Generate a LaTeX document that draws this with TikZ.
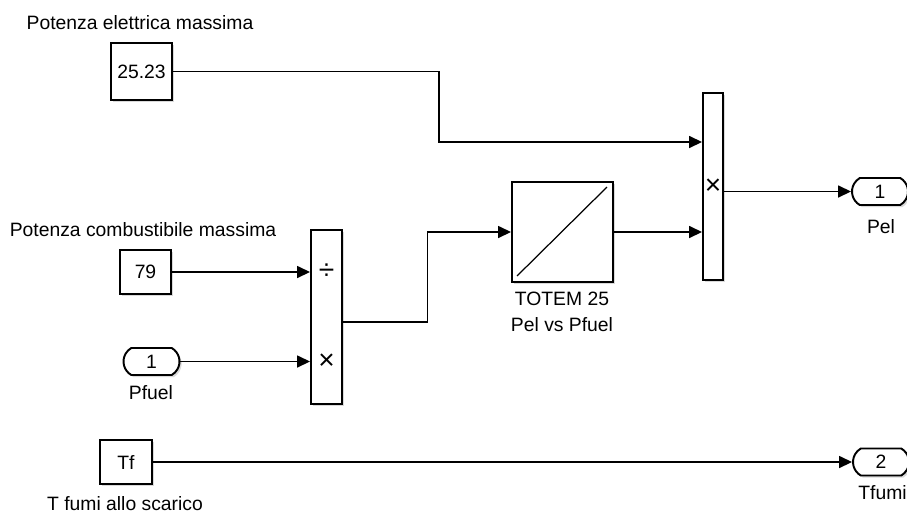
\documentclass[tikz,border=0pt]{standalone}
\usepackage{fontspec}
\setmainfont{Liberation Sans}
\usetikzlibrary{arrows.meta,shapes.misc,shadows}

\begin{document}
\begin{tikzpicture}[
        font=\fontsize{11}{13}\selectfont,
        blk/.style={draw, line width=1.1pt, fill=white, inner sep=0pt,
            drop shadow={shadow xshift=1.2pt, shadow yshift=-1.2pt, fill=black!25, opacity=0.6}},
        port/.style={blk, rounded rectangle, rounded rectangle arc length=120,
            minimum width=1.12cm, minimum height=0.54cm},
        op/.style={font=\fontsize{16}{16}\selectfont, inner sep=0pt},
        wire/.style={line width=0.9pt},
        sig/.style={wire, -{Triangle[length=0.26cm, width=0.24cm]}}
    ]
        \useasboundingbox (0,0) rectangle (18.14,-10.24);
        \node[blk, minimum width=1.22cm, minimum height=1.14cm] (c25) at (2.83,-1.43) {25.23};
        \node (lab25) at (2.8,-0.46) {Potenza elettrica massima};
        \node[blk, minimum width=1.02cm, minimum height=0.88cm] (c79) at (2.91,-5.44) {79};
        \node (lab79) at (2.86,-4.6) {Potenza combustibile massima};
        \node[port] (in1) at (3.03,-7.23) {1};
        \node (labpfuel) at (3.02,-7.86) {Pfuel};
        \node[blk, minimum width=1.04cm, minimum height=0.88cm] (tf) at (2.52,-9.24) {Tf};
        \node[anchor=base] (labtf) at (2.5,-10.2) {T fumi allo scarico};
        \node[blk, minimum width=0.62cm, minimum height=3.48cm] (div) at (6.53,-6.34) {};
        \node[op] at (div.center |- c79) {÷};
        \node[op] at (div.center |- in1) {×};
        \node[blk, minimum width=2.02cm, minimum height=2cm] (totem) at (11.25,-4.64) {};
        \draw[line width=0.7pt] ([shift={(0.12,0.14)}]totem.south west) -- ([shift={(-0.14,-0.12)}]totem.north east);
        \node (labtotem) at (11.24,-5.98) {TOTEM 25};
        \node (labpel2) at (11.24,-6.5) {Pel vs Pfuel};
        \node[blk, minimum width=0.4cm, minimum height=3.74cm] (prod) at (14.26,-3.73) {};
        \node[op] at (prod.center) {×};
        \node[port] (out1) at (17.6,-3.83) {1};
        \node (labpel) at (17.62,-4.54) {Pel};
        \node[port] (out2) at (17.62,-9.24) {2};
        \node (labtfumi) at (17.65,-9.86) {Tfumi};

        \draw[sig] (c25.east) -- ++(5.32,0) |- ([yshift=0.89cm]prod.west);
        \draw[sig] (c79.east) -- (c79.east -| div.west);
        \draw[sig] (in1.east) -- (in1.east -| div.west);
        \draw[sig] ([yshift=-1mm]div.east) -- ++(1.69,0) |- (totem.west);
        \draw[sig] (totem.east) -- (totem.east -| prod.west);
        \draw[sig] (prod.east |- out1.west) -- (out1.west);
        \draw[sig] (tf.east) -- (out2.west);
    \end{tikzpicture}
\end{document}
